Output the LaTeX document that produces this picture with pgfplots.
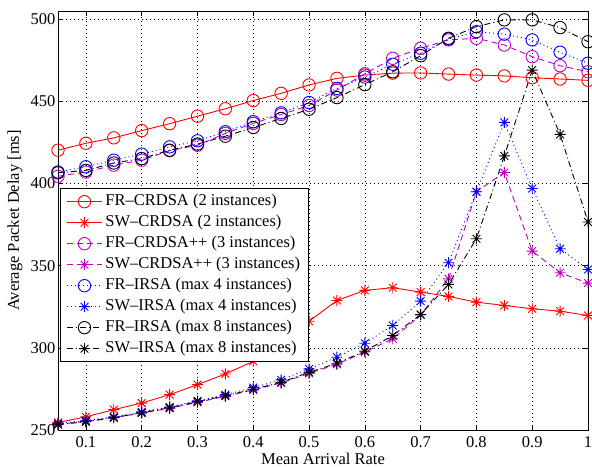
\documentclass[border=0pt]{standalone}
\usepackage{fontspec}
\setmainfont{Liberation Serif}
\usepackage{pgfplots}
\pgfplotsset{compat=1.18}

\definecolor{mmag}{rgb}{0.75,0,0.75}

% MATLAB-like '*' marker: a plus and a cross on top of each other
\pgfdeclareplotmark{mstar}{%
  \pgfpathmoveto{\pgfqpoint{-\pgfplotmarksize}{0pt}}%
  \pgfpathlineto{\pgfqpoint{\pgfplotmarksize}{0pt}}%
  \pgfpathmoveto{\pgfqpoint{0pt}{-\pgfplotmarksize}}%
  \pgfpathlineto{\pgfqpoint{0pt}{\pgfplotmarksize}}%
  \pgfpathmoveto{\pgfqpoint{-.7071\pgfplotmarksize}{-.7071\pgfplotmarksize}}%
  \pgfpathlineto{\pgfqpoint{.7071\pgfplotmarksize}{.7071\pgfplotmarksize}}%
  \pgfpathmoveto{\pgfqpoint{-.7071\pgfplotmarksize}{.7071\pgfplotmarksize}}%
  \pgfpathlineto{\pgfqpoint{.7071\pgfplotmarksize}{-.7071\pgfplotmarksize}}%
  \pgfusepathqstroke}

\pgfplotstableread{
x     frc    swc    frcpp  swcpp  fr4    sw4    fr8    sw8
0.05  420.3  254.6  404.4  253.5  407.0  254.0  406.5  253.3
0.10  424.5  258.0  407.0  255.2  410.2  255.8  408.0  255.0
0.15  427.8  262.4  411.2  257.5  414.2  258.0  412.5  257.5
0.20  432.2  266.4  414.2  260.3  417.9  261.0  415.2  260.5
0.25  436.4  271.5  420.0  263.2  422.3  264.0  420.3  263.5
0.30  441.0  277.6  423.3  266.8  426.0  267.8  424.0  267.3
0.35  445.5  284.1  430.5  270.5  431.5  271.5  428.8  270.8
0.40  450.5  291.8  436.6  274.4  437.6  275.8  434.1  274.8
0.45  454.9  303.5  442.0  278.6  443.0  280.5  439.6  279.0
0.50  460.0  316.2  447.5  284.5  449.3  287.2  445.2  285.1
0.55  464.0  328.8  456.9  290.0  457.9  294.3  452.3  290.6
0.60  466.0  335.0  466.8  297.5  464.8  302.8  460.2  298.0
0.65  467.2  336.6  476.2  305.5  472.6  313.6  468.0  307.5
0.70  467.3  333.9  482.3  320.0  479.3  328.4  477.8  320.3
0.75  466.6  331.3  487.4  342.0  488.0  351.8  488.4  338.6
0.80  466.0  327.8  488.4  395.0  492.4  395.0  495.5  366.4
0.85  465.5  325.8  484.3  406.7  490.9  437.2  499.6  416.8
0.90  464.4  323.8  477.2  358.9  487.4  397.0  499.6  469.0
0.95  463.6  322.3  471.7  345.7  479.9  360.3  494.9  429.9
1.00  462.8  319.7  468.0  339.4  473.2  347.7  486.3  376.6
}\delaydata

\begin{document}
\begin{tikzpicture}[font=\fontsize{16.5bp}{19bp}\selectfont]
\begin{axis}[
    scale only axis,
    width=530bp, height=419bp,
    xmin=0.05, xmax=1, ymin=250, ymax=505,
    xtick={0.1,0.2,0.3,0.4,0.5,0.6,0.7,0.8,0.9,1},
    xticklabels={0.1,0.2,0.3,0.4,0.5,0.6,0.7,0.8,0.9,1},
    ytick={250,300,350,400,450,500},
    /pgf/number format/assume math mode=true,
    grid=major,
    major grid style={black, line width=0.5bp, dash pattern=on 1bp off 3bp},
    tick align=inside, major tick length=5bp,
    tick style={black, line width=0.6bp},
    axis line style={line width=0.9bp},
    xticklabel style={yshift=-3bp},
    yticklabel style={xshift=1bp},
    xlabel={Mean Arrival Rate},
    ylabel={Average Packet Delay [ms]},
    xlabel style={at={(axis description cs:0.5,0)}, anchor=center, yshift=-29bp},
    ylabel style={at={(axis description cs:0,0.5)}, anchor=center, yshift=43bp},
    every axis plot/.append style={line width=0.9bp},
    legend image code/.code={%
      \draw[mark repeat=2,mark phase=2,#1]
        plot coordinates {(0bp,0bp) (17.5bp,0bp) (35bp,0bp)};},
    legend style={at={(0.003,0.577)}, anchor=north west,
      draw=black, line width=0.9bp, fill=white,
      inner xsep=6.5bp, inner ysep=3bp,
      row sep=1bp, column sep=1bp,
      nodes={inner sep=2bp, text height=12bp, text depth=4bp},
      cells={anchor=west}},
]
\addplot[red, mark=o, mark size=6.2bp, mark options={solid}]
  table[x=x, y=frc] {\delaydata};
\addlegendentry{FR--CRDSA (2 instances)}
\addplot[red, mark=mstar, mark size=5.5bp, mark options={solid}]
  table[x=x, y=swc] {\delaydata};
\addlegendentry{SW--CRDSA (2 instances)}
\addplot[mmag, dash pattern=on 6bp off 4bp, mark=o, mark size=6.2bp, mark options={solid}]
  table[x=x, y=frcpp] {\delaydata};
\addlegendentry{FR--CRDSA++ (3 instances)}
\addplot[mmag, dash pattern=on 6bp off 4bp, mark=mstar, mark size=5.5bp, mark options={solid}]
  table[x=x, y=swcpp] {\delaydata};
\addlegendentry{SW--CRDSA++ (3 instances)}
\addplot[blue, dash pattern=on 1bp off 3bp, mark=o, mark size=6.2bp, mark options={solid}]
  table[x=x, y=fr4] {\delaydata};
\addlegendentry{FR--IRSA (max 4 instances)}
\addplot[blue, dash pattern=on 1bp off 3bp, mark=mstar, mark size=5.5bp, mark options={solid}]
  table[x=x, y=sw4] {\delaydata};
\addlegendentry{SW--IRSA (max 4 instances)}
\addplot[black, dash pattern=on 6bp off 3bp on 1bp off 3bp, mark=o, mark size=6.2bp, mark options={solid}]
  table[x=x, y=fr8] {\delaydata};
\addlegendentry{FR--IRSA (max 8 instances)}
\addplot[black, dash pattern=on 6bp off 3bp on 1bp off 3bp, mark=mstar, mark size=5.5bp, mark options={solid}]
  table[x=x, y=sw8] {\delaydata};
\addlegendentry{SW--IRSA (max 8 instances)}
\end{axis}
\pgfresetboundingbox
\path[use as bounding box] ([shift={(-58bp,-37bp)}]current axis.south west)
  rectangle ([shift={(4bp,11bp)}]current axis.north east);
\end{tikzpicture}
\end{document}
